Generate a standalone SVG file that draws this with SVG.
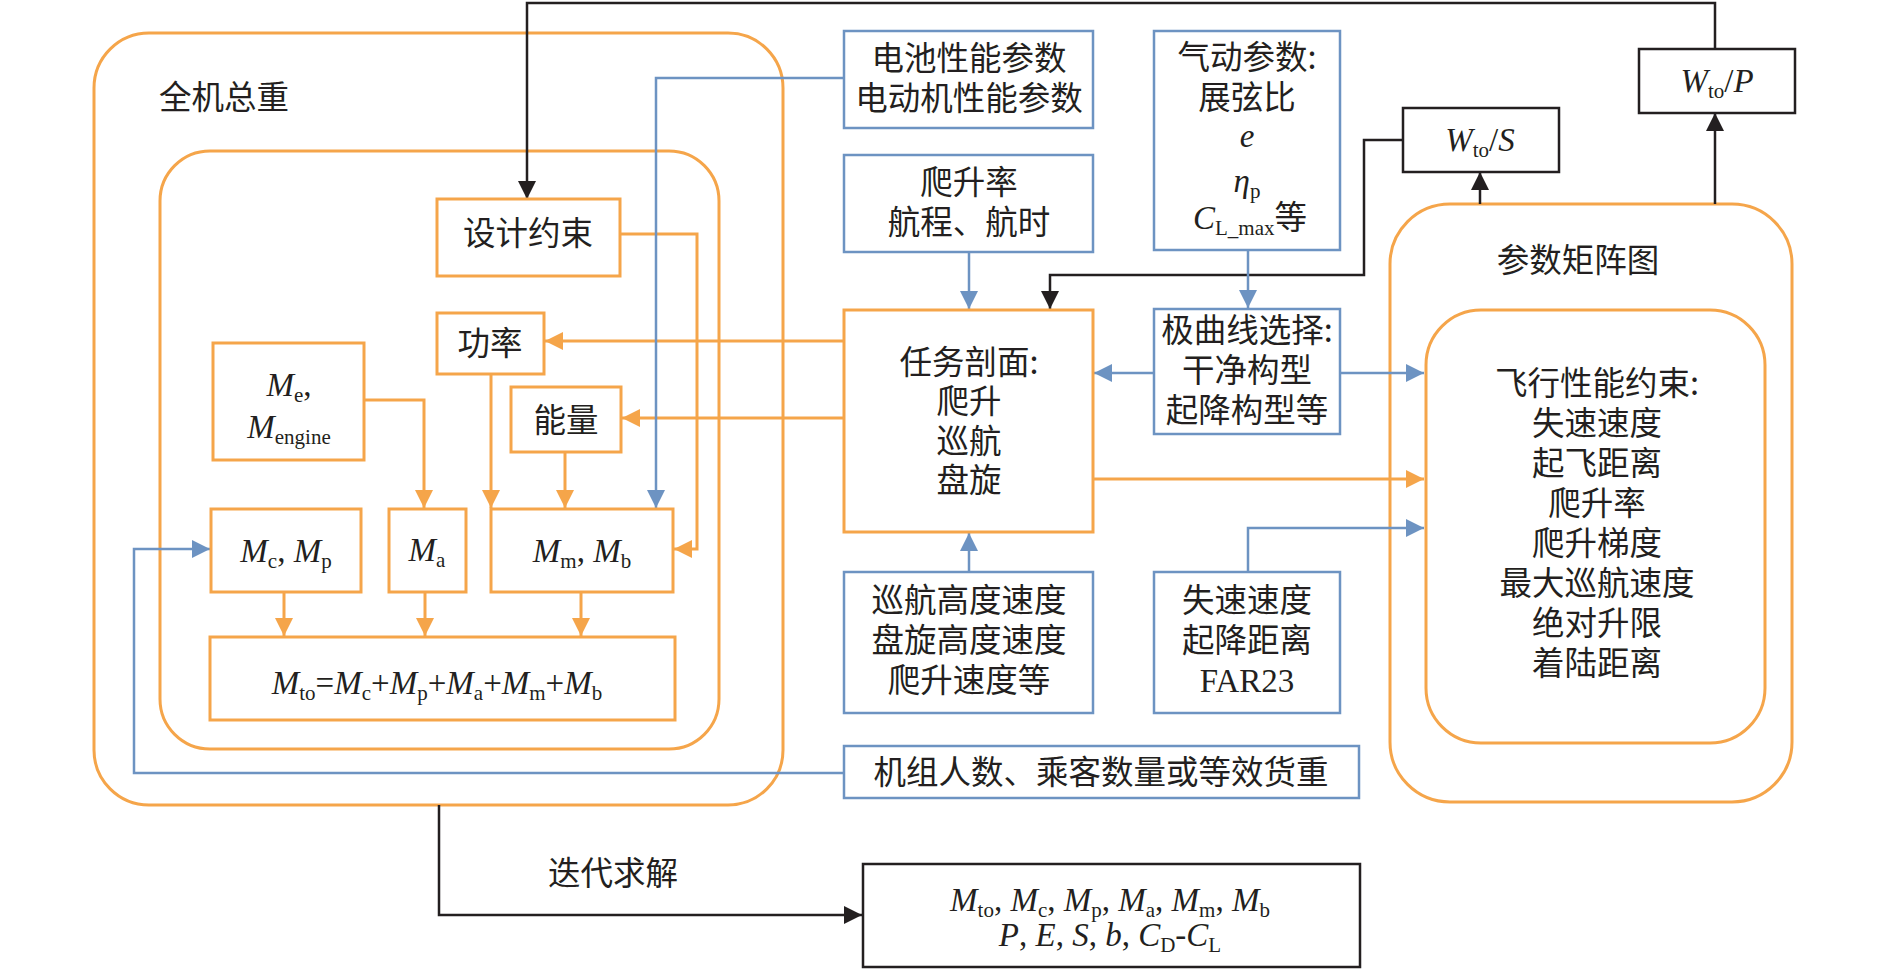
<svg xmlns="http://www.w3.org/2000/svg" width="1890" height="971" viewBox="0 0 1890 971">
<style>
.o{fill:none;stroke:#F5A54A;stroke-width:3}
.b{fill:none;stroke:#6D93C2;stroke-width:2.5}
.k{fill:none;stroke:#231F20;stroke-width:2.5}
.ob{fill:#fff;stroke:#F5A54A;stroke-width:3}
.bb{fill:#fff;stroke:#6D93C2;stroke-width:2.5}
.kb{fill:#fff;stroke:#231F20;stroke-width:2.5}
.cn{font-family:"Noto Sans CJK SC","Noto Sans",sans-serif;font-size:32.5px;fill:#231F20;text-anchor:middle}
.m{font-family:"Liberation Serif","Times New Roman",serif;font-size:33px;fill:#231F20;text-anchor:middle}
.i{font-style:italic}
.s{font-size:21px;font-style:normal}
</style>
<defs>
<marker id="ao" markerUnits="userSpaceOnUse" markerWidth="18" markerHeight="18" viewBox="0 0 18 18" refX="18" refY="9" orient="auto"><path d="M0,0L18,9L0,18z" fill="#F5A54A"/></marker>
<marker id="ab" markerUnits="userSpaceOnUse" markerWidth="18" markerHeight="18" viewBox="0 0 18 18" refX="18" refY="9" orient="auto"><path d="M0,0L18,9L0,18z" fill="#6D93C2"/></marker>
<marker id="ak" markerUnits="userSpaceOnUse" markerWidth="18" markerHeight="18" viewBox="0 0 18 18" refX="18" refY="9" orient="auto"><path d="M0,0L18,9L0,18z" fill="#231F20"/></marker>
</defs>
<rect width="1890" height="971" fill="#fff"/>

<g id="group-total">
<rect class="o" x="94" y="33" width="689" height="772" rx="55"/>
<text class="cn" x="224" y="109">全机总重</text>
</g>
<g id="group-inner">
<rect class="o" x="160" y="151" width="559" height="598" rx="50"/>
</g>
<g id="group-matrix">
<rect class="o" x="1390" y="204" width="402" height="598" rx="60"/>
<text class="cn" x="1578" y="272">参数矩阵图</text>
</g>

<g id="connectors">
<path class="k" d="M1715,49V3H527V199" marker-end="url(#ak)"/>
<path class="k" d="M1715,204V113" marker-end="url(#ak)"/>
<path class="k" d="M1480,204V172" marker-end="url(#ak)"/>
<path class="k" d="M1403,140H1364V275H1050V309" marker-end="url(#ak)"/>
<path class="k" d="M439,805V915H862" marker-end="url(#ak)"/>
<path class="o" d="M844,341H545" marker-end="url(#ao)"/>
<path class="o" d="M844,418H622" marker-end="url(#ao)"/>
<path class="o" d="M1093,479H1424" marker-end="url(#ao)"/>
<path class="o" d="M620,234H697V549H674" marker-end="url(#ao)"/>
<path class="o" d="M364,400H424V508" marker-end="url(#ao)"/>
<path class="o" d="M491,374V508" marker-end="url(#ao)"/>
<path class="o" d="M565,452V508" marker-end="url(#ao)"/>
<path class="o" d="M284,592V636" marker-end="url(#ao)"/>
<path class="o" d="M425,592V636" marker-end="url(#ao)"/>
<path class="o" d="M581,592V636" marker-end="url(#ao)"/>
<path class="b" d="M844,78H656V508" marker-end="url(#ab)"/>
<path class="b" d="M969,252V309" marker-end="url(#ab)"/>
<path class="b" d="M1248,250V308" marker-end="url(#ab)"/>
<path class="b" d="M1154,373H1094" marker-end="url(#ab)"/>
<path class="b" d="M1340,373H1424" marker-end="url(#ab)"/>
<path class="b" d="M1248,572V528H1424" marker-end="url(#ab)"/>
<path class="b" d="M969,572V533" marker-end="url(#ab)"/>
<path class="b" d="M844,773H134V549H210" marker-end="url(#ab)"/>
</g>

<g id="node-design">
<rect class="ob" x="437" y="199" width="183" height="77"/>
<text class="cn" x="528" y="245">设计约束</text>
</g>
<g id="node-power">
<rect class="ob" x="437" y="313" width="107" height="61"/>
<text class="cn" x="490" y="355">功率</text>
</g>
<g id="node-energy">
<rect class="ob" x="511" y="387" width="110" height="65"/>
<text class="cn" x="566" y="432">能量</text>
</g>
<g id="node-me">
<rect class="ob" x="213" y="343" width="151" height="117"/>
<text class="m" x="289" y="396"><tspan class="i">M</tspan><tspan class="s" dy="6">e</tspan><tspan dy="-6">,</tspan></text>
<text class="m" x="289" y="438"><tspan class="i">M</tspan><tspan class="s" dy="6">engine</tspan></text>
</g>
<g id="node-mcp">
<rect class="ob" x="211" y="509" width="150" height="83"/>
<text class="m" x="286" y="562"><tspan class="i">M</tspan><tspan class="s" dy="6">c</tspan><tspan dy="-6">, </tspan><tspan class="i">M</tspan><tspan class="s" dy="6">p</tspan></text>
</g>
<g id="node-ma">
<rect class="ob" x="389" y="509" width="77" height="83"/>
<text class="m" x="427" y="561"><tspan class="i">M</tspan><tspan class="s" dy="6">a</tspan></text>
</g>
<g id="node-mmb">
<rect class="ob" x="491" y="509" width="182" height="83"/>
<text class="m" x="582" y="562"><tspan class="i">M</tspan><tspan class="s" dy="6">m</tspan><tspan dy="-6">, </tspan><tspan class="i">M</tspan><tspan class="s" dy="6">b</tspan></text>
</g>
<g id="node-mto">
<rect class="ob" x="210" y="637" width="465" height="83"/>
<text class="m" x="437" y="694"><tspan class="i">M</tspan><tspan class="s" dy="6">to</tspan><tspan dy="-6">=</tspan><tspan class="i">M</tspan><tspan class="s" dy="6">c</tspan><tspan dy="-6">+</tspan><tspan class="i">M</tspan><tspan class="s" dy="6">p</tspan><tspan dy="-6">+</tspan><tspan class="i">M</tspan><tspan class="s" dy="6">a</tspan><tspan dy="-6">+</tspan><tspan class="i">M</tspan><tspan class="s" dy="6">m</tspan><tspan dy="-6">+</tspan><tspan class="i">M</tspan><tspan class="s" dy="6">b</tspan></text>
</g>

<g id="node-battery">
<rect class="bb" x="844" y="31" width="249" height="97"/>
<text class="cn" x="969" y="70">电池性能参数</text>
<text class="cn" x="969" y="110">电动机性能参数</text>
</g>
<g id="node-climb">
<rect class="bb" x="844" y="155" width="249" height="97"/>
<text class="cn" x="969" y="194">爬升率</text>
<text class="cn" x="969" y="234">航程、航时</text>
</g>
<g id="node-aero">
<rect class="bb" x="1154" y="31" width="186" height="219"/>
<text class="cn" x="1247" y="69">气动参数:</text>
<text class="cn" x="1247" y="109">展弦比</text>
<text class="m" x="1247" y="147"><tspan class="i">e</tspan></text>
<text class="m" x="1247" y="192"><tspan class="i">η</tspan><tspan class="s" dy="6">p</tspan></text>
<text class="m" x="1250" y="229"><tspan class="i">C</tspan><tspan class="s" dy="6">L_max</tspan><tspan dy="-6" font-family="Noto Sans CJK SC, sans-serif" font-size="32.5">等</tspan></text>
</g>
<g id="node-mission">
<rect class="ob" x="844" y="310" width="249" height="222"/>
<text class="cn" x="969" y="374">任务剖面:</text>
<text class="cn" x="969" y="413">爬升</text>
<text class="cn" x="969" y="453">巡航</text>
<text class="cn" x="969" y="492">盘旋</text>
</g>
<g id="node-polar">
<rect class="bb" x="1154" y="309" width="186" height="125"/>
<text class="cn" x="1247" y="342">极曲线选择:</text>
<text class="cn" x="1247" y="382">干净构型</text>
<text class="cn" x="1247" y="422">起降构型等</text>
</g>
<g id="node-cruise">
<rect class="bb" x="844" y="572" width="249" height="141"/>
<text class="cn" x="969" y="612">巡航高度速度</text>
<text class="cn" x="969" y="652">盘旋高度速度</text>
<text class="cn" x="969" y="692">爬升速度等</text>
</g>
<g id="node-stall">
<rect class="bb" x="1154" y="572" width="186" height="141"/>
<text class="cn" x="1247" y="612">失速速度</text>
<text class="cn" x="1247" y="652">起降距离</text>
<text class="m" x="1247" y="692">FAR23</text>
</g>
<g id="node-crew">
<rect class="bb" x="844" y="746" width="515" height="52"/>
<text class="cn" x="1101" y="784">机组人数、乘客数量或等效货重</text>
</g>
<g id="node-flight">
<rect class="o" x="1426" y="310" width="339" height="433" rx="55"/>
<text class="cn" x="1597" y="395">飞行性能约束:</text>
<text class="cn" x="1597" y="435">失速速度</text>
<text class="cn" x="1597" y="475">起飞距离</text>
<text class="cn" x="1597" y="515">爬升率</text>
<text class="cn" x="1597" y="555">爬升梯度</text>
<text class="cn" x="1597" y="595">最大巡航速度</text>
<text class="cn" x="1597" y="635">绝对升限</text>
<text class="cn" x="1597" y="675">着陆距离</text>
</g>
<g id="node-wts">
<rect class="kb" x="1403" y="108" width="156" height="64"/>
<text class="m" x="1480" y="151"><tspan class="i">W</tspan><tspan class="s" dy="6">to</tspan><tspan dy="-6">/</tspan><tspan class="i">S</tspan></text>
</g>
<g id="node-wtp">
<rect class="kb" x="1639" y="49" width="156" height="64"/>
<text class="m" x="1717" y="92"><tspan class="i">W</tspan><tspan class="s" dy="6">to</tspan><tspan dy="-6">/</tspan><tspan class="i">P</tspan></text>
</g>
<g id="label-iter">
<text class="cn" x="613" y="885">迭代求解</text>
</g>
<g id="node-result">
<rect class="kb" x="863" y="864" width="497" height="103"/>
<text class="m" x="1110" y="911"><tspan class="i">M</tspan><tspan class="s" dy="6">to</tspan><tspan dy="-6">, </tspan><tspan class="i">M</tspan><tspan class="s" dy="6">c</tspan><tspan dy="-6">, </tspan><tspan class="i">M</tspan><tspan class="s" dy="6">p</tspan><tspan dy="-6">, </tspan><tspan class="i">M</tspan><tspan class="s" dy="6">a</tspan><tspan dy="-6">, </tspan><tspan class="i">M</tspan><tspan class="s" dy="6">m</tspan><tspan dy="-6">, </tspan><tspan class="i">M</tspan><tspan class="s" dy="6">b</tspan></text>
<text class="m" x="1110" y="946"><tspan class="i">P</tspan><tspan>, </tspan><tspan class="i">E</tspan><tspan>, </tspan><tspan class="i">S</tspan><tspan>, </tspan><tspan class="i">b</tspan><tspan>, </tspan><tspan class="i">C</tspan><tspan class="s" dy="6">D</tspan><tspan dy="-6">-</tspan><tspan class="i">C</tspan><tspan class="s" dy="6">L</tspan></text>
</g>
</svg>
